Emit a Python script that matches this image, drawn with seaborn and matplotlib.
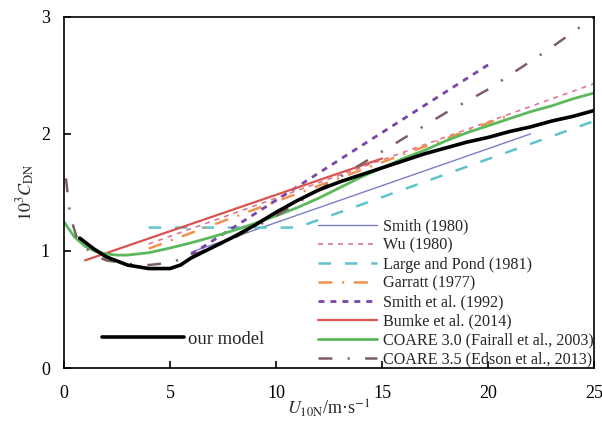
import matplotlib
matplotlib.use("Agg")
import matplotlib.pyplot as plt
import seaborn as sns
from matplotlib.lines import Line2D

# Wind speed (m/s) and neutral drag coefficient (x 10^3) for each parameterisation
smith80_u = [6, 22]
smith80_c = [0.99, 2.00]

wu80_u = [4, 25]
wu80_c = [1.06, 2.43]

large_pond_u = [4, 11, 25]
large_pond_c = [1.20, 1.20, 2.11]

garratt_u = [4, 21]
garratt_c = [1.02, 2.16]

smith92_u = [6, 20]
smith92_c = [0.97, 2.59]

bumke_u = [1, 15]
bumke_c = [0.92, 1.79]

coare30_u = [0, 0.5, 1, 1.5, 2, 2.5, 3, 4, 5, 6, 7, 8, 9, 10, 11, 12, 13,
             14, 15, 16, 17, 18, 19, 20, 21, 22, 23, 24, 25]
coare30_c = [1.25, 1.12, 1.04, 0.995, 0.975, 0.965, 0.965, 0.985, 1.025, 1.07,
             1.12, 1.175, 1.235, 1.30, 1.37, 1.45, 1.54, 1.63, 1.71, 1.79,
             1.86, 1.94, 2.01, 2.07, 2.13, 2.19, 2.24, 2.30, 2.35]

coare35_u = [0.1, 0.3, 0.6, 1, 1.5, 2, 3, 4, 5, 6, 7, 8, 9, 10, 11, 12, 13,
             14, 15, 16, 17, 18, 19, 20, 21, 22, 23, 24, 25]
coare35_c = [1.62, 1.30, 1.12, 1.03, 0.96, 0.92, 0.89, 0.88, 0.90, 0.96,
             1.03, 1.11, 1.20, 1.30, 1.41, 1.52, 1.63, 1.74, 1.85, 1.96,
             2.07, 2.18, 2.28, 2.38, 2.50, 2.62, 2.74, 2.87, 3.00]

model_u = [0.75, 1.4, 2, 3, 4, 5, 5.5, 6, 7, 8, 9, 10, 11, 12, 13, 14, 15,
           16, 17, 18, 19, 20, 21, 22, 23, 24, 25]
model_c = [1.11, 1.02, 0.95, 0.88, 0.85, 0.85, 0.88, 0.94, 1.03, 1.12, 1.22,
           1.33, 1.43, 1.52, 1.59, 1.65, 1.71, 1.77, 1.83, 1.88, 1.93, 1.97,
           2.02, 2.06, 2.11, 2.15, 2.20]

x_ticks = [0, 5, 10, 15, 20, 25]
y_ticks = [0, 1, 2, 3]

sns.set_style("ticks")
plt.rcParams["font.family"] = ["Liberation Serif", "DejaVu Serif"]
plt.rcParams["mathtext.fontset"] = "stix"
plt.rcParams["lines.scale_dashes"] = False

fig = plt.figure(figsize=(6.02, 4.32), dpi=100)
ax = fig.add_axes([0.106, 0.148, 0.881, 0.813])

series = [
    ("Smith (1980)", smith80_u, smith80_c, "#7b7fc6", 1.0, "-"),
    ("Wu (1980)", wu80_u, wu80_c, "#dc7a92", 1.2, (0, (3.6, 3.6))),
    ("Large and Pond (1981)", large_pond_u, large_pond_c, "#5ec3cc", 1.8, (0, (9, 10))),
    ("Garratt (1977)", garratt_u, garratt_c, "#f0924e", 1.8, (0, (10, 7, 1.5, 7))),
    ("Smith et al. (1992)", smith92_u, smith92_c, "#7a44a8", 2.0, (0, (4.3, 4.3))),
    ("Bumke et al. (2014)", bumke_u, bumke_c, "#d9534f", 1.6, "-"),
    ("COARE 3.0 (Fairall et al., 2003)", coare30_u, coare30_c, "#5cb85c", 2.0, "-"),
    ("COARE 3.5 (Edson et al., 2013)", coare35_u, coare35_c, "#7d5f62", 1.8, (0, (10, 11, 1.5, 11))),
]

handles = []
for label, u, c, color, lw, ls in series:
    sns.lineplot(x=u, y=c, ax=ax, color=color, linewidth=lw, linestyle=ls,
                 sort=False, estimator=None)
    handles.append(Line2D([], [], color=color, linewidth=lw, linestyle=ls, label=label))

sns.lineplot(x=model_u, y=model_c, ax=ax, color="black", linewidth=2.6,
             sort=False, estimator=None)
model_handle = Line2D([], [], color="black", linewidth=2.6, label="our model")

ax.set_xlim(0, 25)
ax.set_ylim(0, 3)
ax.set_xticks(x_ticks)
ax.set_yticks(y_ticks)
for s in ax.spines.values():
    s.set_linewidth(1.2)
    s.set_color("black")
ax.tick_params(direction="in", length=5, width=1.2, labelsize=13, colors="black")
ax.tick_params(axis="x", pad=12)
ax.tick_params(axis="y", pad=10)

ax.set_xlabel(r"$U_{\mathrm{10N}}$/m·s$^{-1}$", fontsize=13, labelpad=-3)
ax.set_ylabel(r"$10^3C_{\mathrm{DN}}$", fontsize=13, labelpad=3)

leg = ax.legend(handles=handles, loc="lower right", bbox_to_anchor=(1.018, -0.025),
                frameon=False, fontsize=11.6, handlelength=3.7, handletextpad=0.38,
                labelspacing=0.18, borderaxespad=0.2)
ax.add_artist(leg)
ax.legend(handles=[model_handle], loc="lower left", bbox_to_anchor=(0.04, 0.01),
          frameon=False, fontsize=13.4, handlelength=4.4, handletextpad=0.25)

fig.savefig("out.png", dpi=100)
